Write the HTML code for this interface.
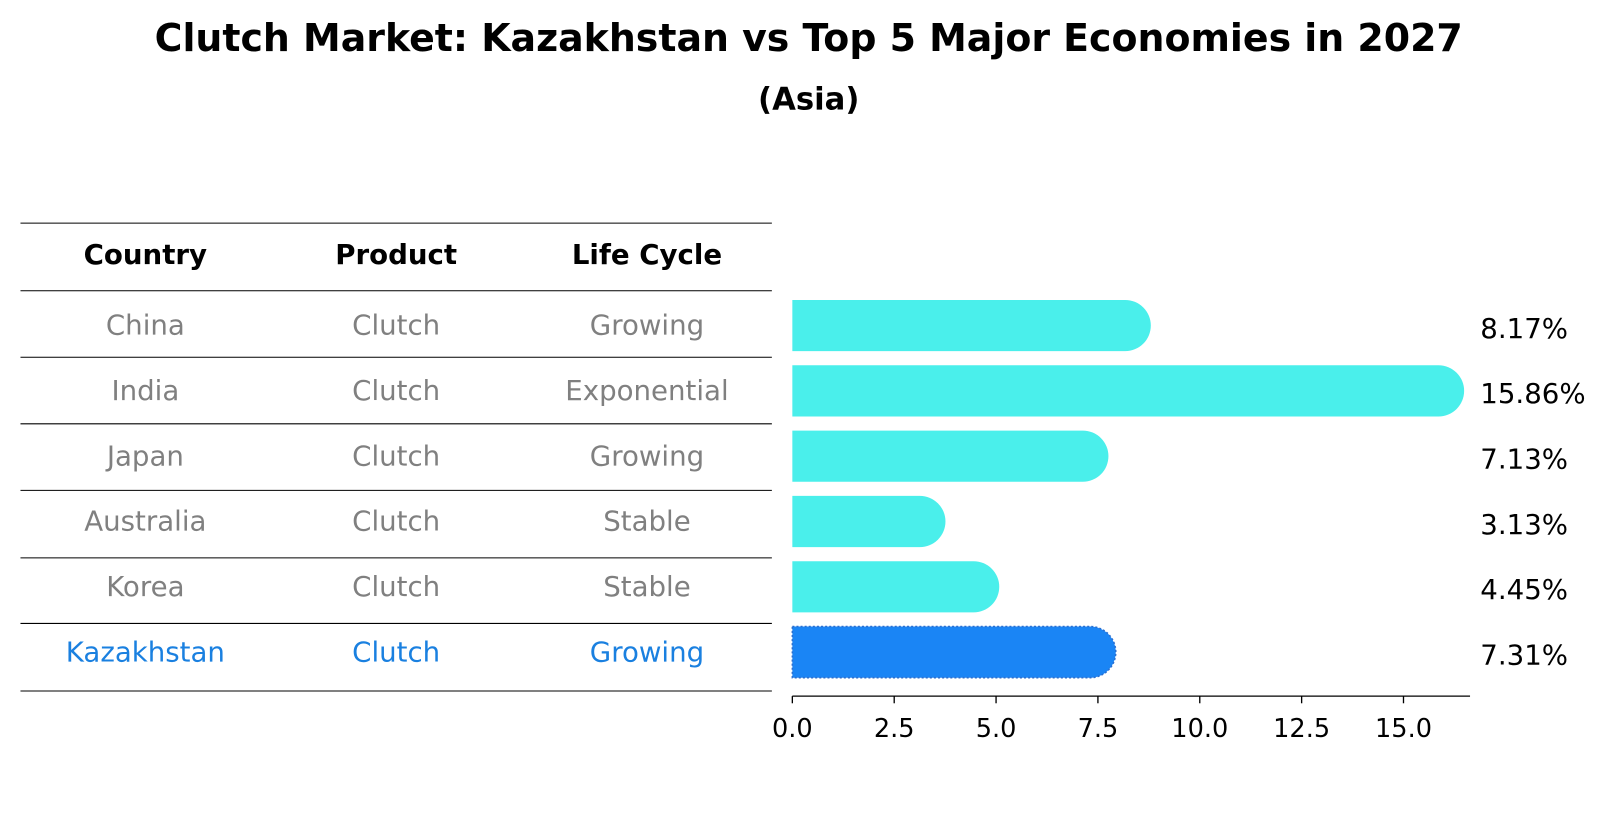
<!DOCTYPE html>
<html><head><meta charset="utf-8"><style>
body{margin:0;background:#fff;font-family:"Liberation Sans","DejaVu Sans",sans-serif}
svg text{font-family:"DejaVu Sans","Liberation Sans",sans-serif}
</style></head><body>
<svg id="c" width="1604" height="823">
<g transform="scale(1.0237)">
<text x="790" y="50" text-anchor="middle" font-size="37" font-weight="bold">Clutch Market: Kazakhstan vs Top 5 Major Economies in 2027</text>
<text x="790" y="107" text-anchor="middle" font-size="30" font-weight="bold">(Asia)</text>
<g id="table"></g>
<g id="bars"></g>
<g id="axis"></g>
</g>
</svg>
<script>
const countries=["China","India","Japan","Australia","Korea","Kazakhstan"];
const products=["Clutch","Clutch","Clutch","Clutch","Clutch","Clutch"];
const lifeCycles=["Growing","Exponential","Growing","Stable","Stable","Growing"];
const values=[8.17,15.86,7.13,3.13,4.45,7.31];
const ticks=[0,2.5,5,7.5,10,12.5,15];
const NS="http://www.w3.org/2000/svg";
function mk(tag,attrs,parent,txt){const e=document.createElementNS(NS,tag);for(const k in attrs)e.setAttribute(k,attrs[k]);if(txt!==undefined)e.textContent=txt;parent.appendChild(e);return e;}
const x0=774,pxPer=39.8,xs=v=>x0+v*pxPer;
const rowY=i=>318+i*63.8;
const T=document.getElementById('table'),B=document.getElementById('bars'),A=document.getElementById('axis');
const lines=[218,284,349,414,479,545,609,675];
lines.forEach((y,i)=>{const l=mk('line',{x1:20,x2:754,y1:y,y2:y,stroke:'#000','stroke-width':1},T);

});
const cols=[142,387,632];
["Country","Product","Life Cycle"].forEach((h,j)=>{const t=mk('text',{x:cols[j],y:258,'text-anchor':'middle','font-size':27,'font-weight':'bold'},T,h);

});
countries.forEach((c,i)=>{const y=rowY(i)+9;const col=i===5?'#1a80e0':'#808080';
[c,products[i],lifeCycles[i]].forEach((v,j)=>{const t=mk('text',{x:cols[j],y:y,'text-anchor':'middle','font-size':27,fill:col},T,v);

});
const r=25,h=50,w=xs(values[i])-x0;
const p=mk('path',{d:`M${x0},${rowY(i)-h/2}h${w}a${r},${r} 0 0 1 0,${h}h${-w}z`,fill:i===5?'#1a85f5':'#4aefeb'},B);
if(i===5){p.setAttribute('stroke','#2a6fd0');p.setAttribute('stroke-dasharray','2,2');p.setAttribute('stroke-width','1.5');}


const t=mk('text',{x:1446,y:rowY(i)+12,'font-size':27},B,values[i].toFixed(2)+'%');

});
mk('line',{x1:x0,x2:1436,y1:680,y2:680,stroke:'#000','stroke-width':1.3},A);
ticks.forEach(v=>{mk('line',{x1:xs(v),x2:xs(v),y1:680,y2:687,stroke:'#000','stroke-width':1.3},A);
const t=mk('text',{x:xs(v),y:720,'text-anchor':'middle','font-size':25},A,v.toFixed(1));

});
</script>
</body></html>
